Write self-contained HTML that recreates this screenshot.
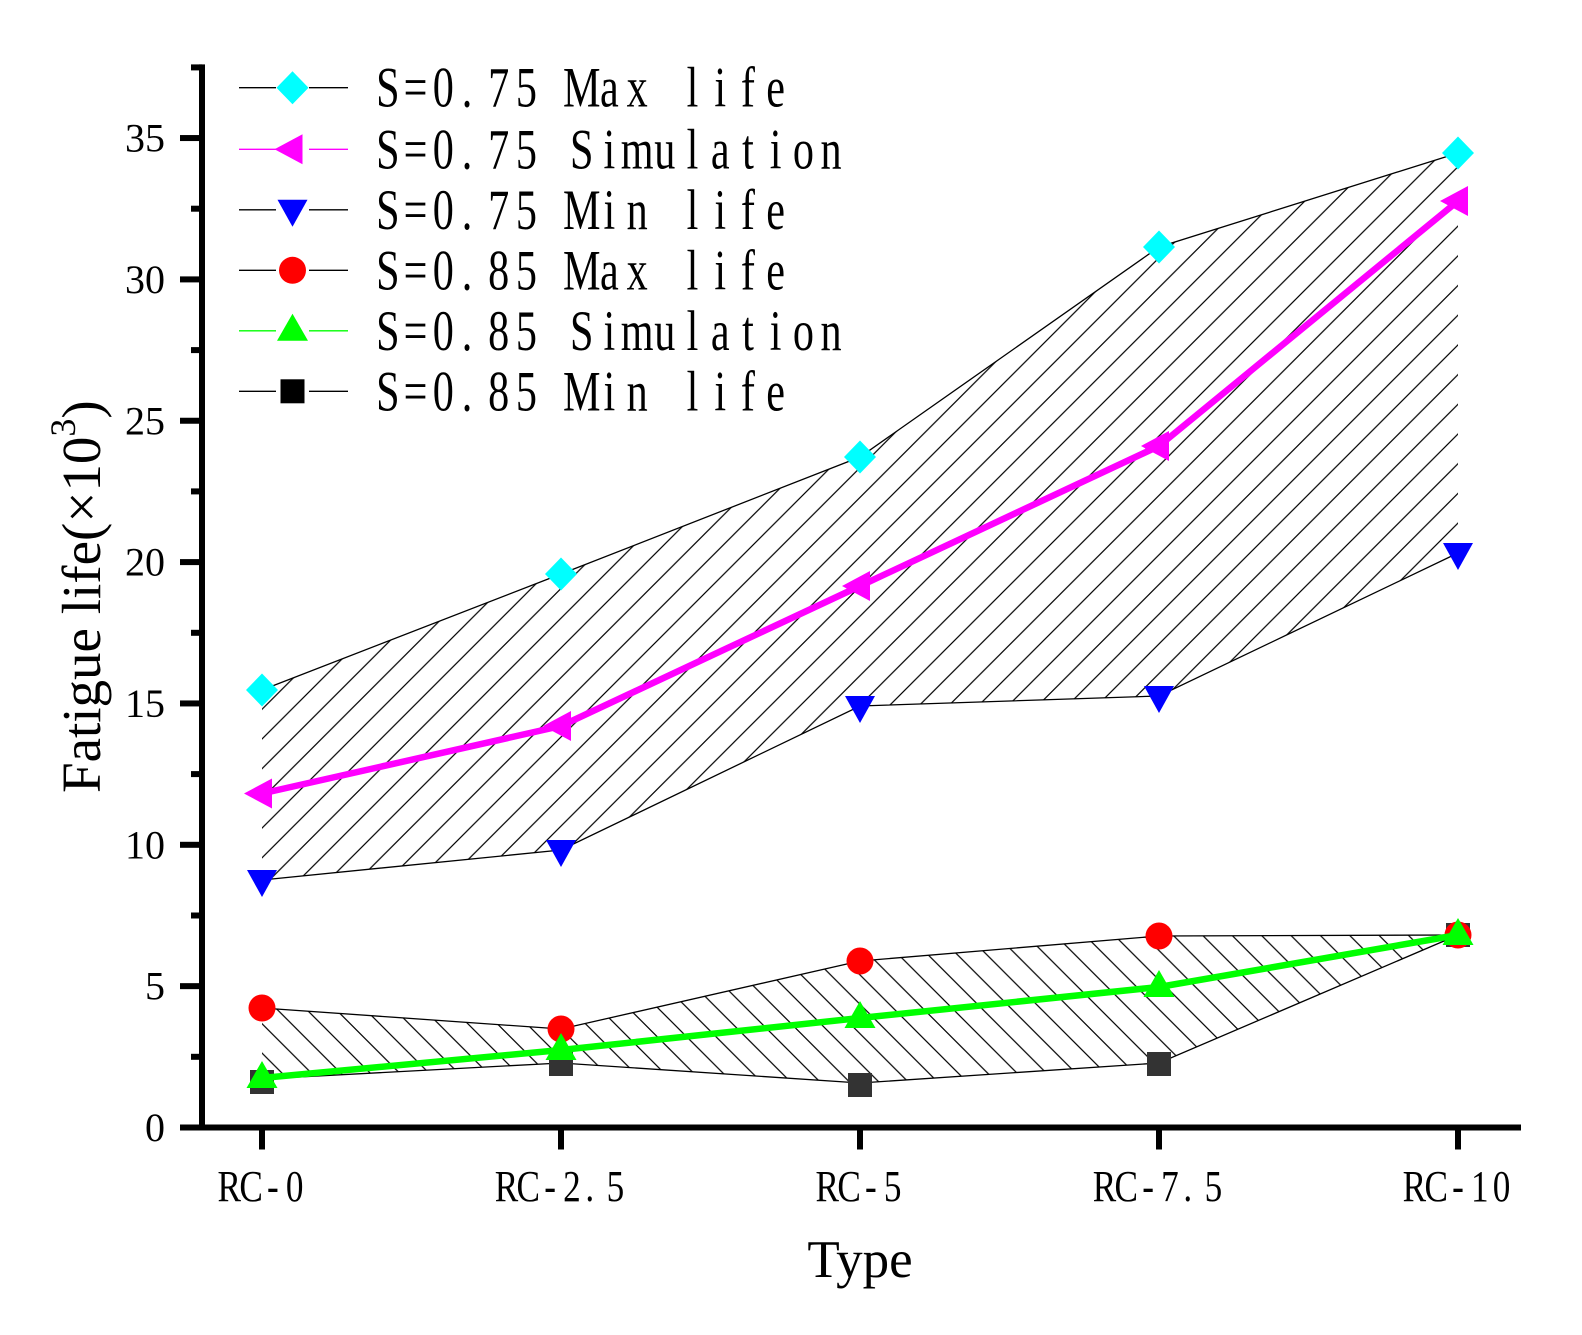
<!DOCTYPE html>
<html>
<head>
<meta charset="utf-8">
<style>
  html, body { margin: 0; padding: 0; background: #ffffff; }
  svg { display: block; }
  text { font-family: "Liberation Serif", "Noto Serif CJK SC", serif; fill: #000; }
</style>
</head>
<body>
<svg width="1582" height="1335" viewBox="0 0 1582 1335" xmlns="http://www.w3.org/2000/svg">
  <defs>
    <pattern id="hatchA" patternUnits="userSpaceOnUse" x="20.9" y="0" width="29.7" height="29.7">
      <path d="M-5,34.7 L34.7,-5 M-5,5 L5,-5 M24.7,34.7 L34.7,24.7" stroke="#000" stroke-width="1.2" fill="none"/>
    </pattern>
    <pattern id="hatchB" patternUnits="userSpaceOnUse" x="2.7" y="0" width="29.4" height="29.4">
      <path d="M-5,-5 L34.4,34.4 M24.4,-5 L34.4,5 M-5,24.4 L5,34.4" stroke="#000" stroke-width="1.2" fill="none"/>
    </pattern>
  </defs>
  <rect x="0" y="0" width="1582" height="1335" fill="#fff"/>

  <!-- S=0.75 band -->
  <polygon points="262,690 561,574 860,457 1159,247 1458,153 1458,553 1159,696 860,706 561,850 262,880" fill="url(#hatchA)" stroke="none"/>
  <polyline points="262,690 561,574 860,457 1159,247 1458,153" fill="none" stroke="#000" stroke-width="1.3"/>
  <polyline points="262,880 561,850 860,706 1159,696 1458,553" fill="none" stroke="#000" stroke-width="1.3"/>

  <!-- S=0.85 band -->
  <polygon points="262,1008 561,1029 860,961 1159,936 1458,935 1159,1063 860,1083 561,1063 262,1079" fill="url(#hatchB)" stroke="none"/>
  <polyline points="262,1008 561,1029 860,961 1159,936 1458,935" fill="none" stroke="#000" stroke-width="1.3"/>
  <polyline points="262,1079 561,1063 860,1083 1159,1063 1458,935" fill="none" stroke="#000" stroke-width="1.3"/>

  <!-- Axes -->
  <rect x="199" y="64.4" width="6" height="1066.1" fill="#000"/>
  <rect x="181" y="1124.5" width="1340" height="6" fill="#000"/>
  <g fill="#000">
    <rect x="180" y="1124.5" width="22" height="6"/>
    <rect x="180" y="983.15" width="22" height="6"/>
    <rect x="180" y="841.8" width="22" height="6"/>
    <rect x="180" y="700.45" width="22" height="6"/>
    <rect x="180" y="559.1" width="22" height="6"/>
    <rect x="180" y="417.75" width="22" height="6"/>
    <rect x="180" y="276.4" width="22" height="6"/>
    <rect x="180" y="135.05" width="22" height="6"/>
    <rect x="191" y="1053.8" width="11" height="6"/>
    <rect x="191" y="912.5" width="11" height="6"/>
    <rect x="191" y="771.1" width="11" height="6"/>
    <rect x="191" y="629.8" width="11" height="6"/>
    <rect x="191" y="488.4" width="11" height="6"/>
    <rect x="191" y="347.1" width="11" height="6"/>
    <rect x="191" y="205.7" width="11" height="6"/>
    <rect x="191" y="64.4" width="11" height="6"/>
    <rect x="259" y="1128" width="6" height="21.5"/>
    <rect x="558" y="1128" width="6" height="21.5"/>
    <rect x="857" y="1128" width="6" height="21.5"/>
    <rect x="1156" y="1128" width="6" height="21.5"/>
    <rect x="1455" y="1128" width="6" height="21.5"/>
  </g>

  <!-- Y tick labels -->
  <g font-size="40" text-anchor="end">
    <text x="165" y="1141">0</text>
    <text x="165" y="999.6">5</text>
    <text x="165" y="858.3">10</text>
    <text x="165" y="717">15</text>
    <text x="165" y="575.6">20</text>
    <text x="165" y="434.3">25</text>
    <text x="165" y="292.9">30</text>
    <text x="165" y="151.6">35</text>
  </g>

  <!-- X tick labels -->
  <g font-size="44" text-anchor="middle">
    <text transform="translate(262,1201) scale(0.8,1)" x="-40.9 -13.6 13.6 40.9" y="0">RC-0</text>
    <text transform="translate(561,1201) scale(0.8,1)" x="-68.1 -40.9 -13.6 13.6 36 68.1" y="0">RC-2.5</text>
    <text transform="translate(860,1201) scale(0.8,1)" x="-40.9 -13.6 13.6 40.9" y="0">RC-5</text>
    <text transform="translate(1159,1201) scale(0.8,1)" x="-68.1 -40.9 -13.6 13.6 36 68.1" y="0">RC-7.5</text>
    <text transform="translate(1458,1201) scale(0.8,1)" x="-54.5 -27.25 0 27.25 54.5" y="0">RC-10</text>
  </g>

  <!-- Axis titles -->
  <text x="860" y="1277" font-size="53" text-anchor="middle">Type</text>
  <text transform="translate(100,793) rotate(-90)" font-size="55">Fatigue life(×10<tspan font-size="36" dy="-25">3</tspan><tspan dy="25">)</tspan></text>

  <!-- S=0.85 Min life squares -->
  <g fill="#333333">
    <rect x="250" y="1070" width="24" height="24"/>
    <rect x="549" y="1052" width="24" height="24"/>
    <rect x="848" y="1073" width="24" height="24"/>
    <rect x="1147" y="1052" width="24" height="24"/>
    <rect x="1446" y="923" width="24" height="24"/>
  </g>
  <!-- S=0.85 Max life circles -->
  <g fill="#ff0000">
    <circle cx="262" cy="1008" r="13.5"/>
    <circle cx="561" cy="1029" r="13.5"/>
    <circle cx="860" cy="961" r="13.5"/>
    <circle cx="1159" cy="936" r="13.5"/>
    <circle cx="1458" cy="935" r="13.5"/>
  </g>

  <!-- S=0.75 Max life diamonds -->
  <g fill="#00ffff">
    <polygon points="262,673.5 278,690 262,706.5 246,690"/>
    <polygon points="561,557.5 577,574 561,590.5 545,574"/>
    <polygon points="860,440.5 876,457 860,473.5 844,457"/>
    <polygon points="1159,230.5 1175,247 1159,263.5 1143,247"/>
    <polygon points="1458,136.5 1474,153 1458,169.5 1442,153"/>
  </g>
  <!-- S=0.75 Min life down triangles -->
  <g fill="#0000ff">
    <polygon points="247,870 277,870 262,897"/>
    <polygon points="546,840 576,840 561,867"/>
    <polygon points="845,696 875,696 860,723"/>
    <polygon points="1144,686 1174,686 1159,713"/>
    <polygon points="1443,543 1473,543 1458,570"/>
  </g>

  <!-- S=0.75 Simulation -->
  <polyline points="262,793.5 561,726 860,586 1159,446 1458,201" fill="none" stroke="#ff00ff" stroke-width="6.5" stroke-linejoin="round"/>
  <g fill="#ff00ff">
    <polygon points="244,793.5 272,778.5 272,808.5"/>
    <polygon points="543,726 571,711 571,741"/>
    <polygon points="842,586 870,571 870,601"/>
    <polygon points="1141,446 1169,431 1169,461"/>
    <polygon points="1440,201 1468,186 1468,216"/>
  </g>

  <!-- S=0.85 Simulation -->
  <polyline points="262,1078 561,1050 860,1018 1159,987 1458,935" fill="none" stroke="#00ff00" stroke-width="6.5" stroke-linejoin="round"/>
  <g fill="#00ff00">
    <polygon points="246.5,1088 277.5,1088 262,1061"/>
    <polygon points="545.5,1060 576.5,1060 561,1033"/>
    <polygon points="844.5,1028 875.5,1028 860,1001"/>
    <polygon points="1143.5,997 1174.5,997 1159,970"/>
    <polygon points="1442.5,945 1473.5,945 1458,918"/>
  </g>

  <!-- Legend -->
  <g stroke-width="1.3">
    <line x1="239" y1="87.7" x2="276" y2="87.7" stroke="#000"/>
    <line x1="309" y1="87.7" x2="348" y2="87.7" stroke="#000"/>
    <line x1="239" y1="149.3" x2="276" y2="149.3" stroke="#ff00ff"/>
    <line x1="309" y1="149.3" x2="348" y2="149.3" stroke="#ff00ff"/>
    <line x1="239" y1="209.8" x2="276" y2="209.8" stroke="#000"/>
    <line x1="309" y1="209.8" x2="348" y2="209.8" stroke="#000"/>
    <line x1="239" y1="270.3" x2="276" y2="270.3" stroke="#000"/>
    <line x1="309" y1="270.3" x2="348" y2="270.3" stroke="#000"/>
    <line x1="239" y1="330.8" x2="276" y2="330.8" stroke="#00ff00"/>
    <line x1="309" y1="330.8" x2="348" y2="330.8" stroke="#00ff00"/>
    <line x1="239" y1="391.3" x2="276" y2="391.3" stroke="#000"/>
    <line x1="309" y1="391.3" x2="348" y2="391.3" stroke="#000"/>
  </g>
  <polygon points="292.5,71.2 308.5,87.7 292.5,104.2 276.5,87.7" fill="#00ffff"/>
  <polygon points="274.5,149.3 302.5,134.3 302.5,164.3" fill="#ff00ff"/>
  <polygon points="277.5,199.8 307.5,199.8 292.5,226.8" fill="#0000ff"/>
  <circle cx="292.5" cy="270.3" r="13.5" fill="#ff0000"/>
  <polygon points="277,340.8 308,340.8 292.5,313.8" fill="#00ff00"/>
  <rect x="280.5" y="379.3" width="24" height="24" fill="#000"/>

  <g font-size="57" text-anchor="middle">
    <text transform="translate(387.85,106.7) scale(0.74,1)" x="0 37.43 74.86 107 149.7 187.2 224.6 262.0 299.4 336.9 374.3 411.7 449.2 486.6 524.0" y="0">S=0.75 Max life</text>
    <text transform="translate(387.85,168.3) scale(0.74,1)" x="0 37.43 74.86 107 149.7 187.2 224.6 262.0 299.4 336.9 374.3 411.7 449.2 486.6 524.0 561.5 598.9" y="0">S=0.75 Simulation</text>
    <text transform="translate(387.85,228.8) scale(0.74,1)" x="0 37.43 74.86 107 149.7 187.2 224.6 262.0 299.4 336.9 374.3 411.7 449.2 486.6 524.0" y="0">S=0.75 Min life</text>
    <text transform="translate(387.85,289.3) scale(0.74,1)" x="0 37.43 74.86 107 149.7 187.2 224.6 262.0 299.4 336.9 374.3 411.7 449.2 486.6 524.0" y="0">S=0.85 Max life</text>
    <text transform="translate(387.85,349.8) scale(0.74,1)" x="0 37.43 74.86 107 149.7 187.2 224.6 262.0 299.4 336.9 374.3 411.7 449.2 486.6 524.0 561.5 598.9" y="0">S=0.85 Simulation</text>
    <text transform="translate(387.85,410.3) scale(0.74,1)" x="0 37.43 74.86 107 149.7 187.2 224.6 262.0 299.4 336.9 374.3 411.7 449.2 486.6 524.0" y="0">S=0.85 Min life</text>
  </g>
</svg>
</body>
</html>
